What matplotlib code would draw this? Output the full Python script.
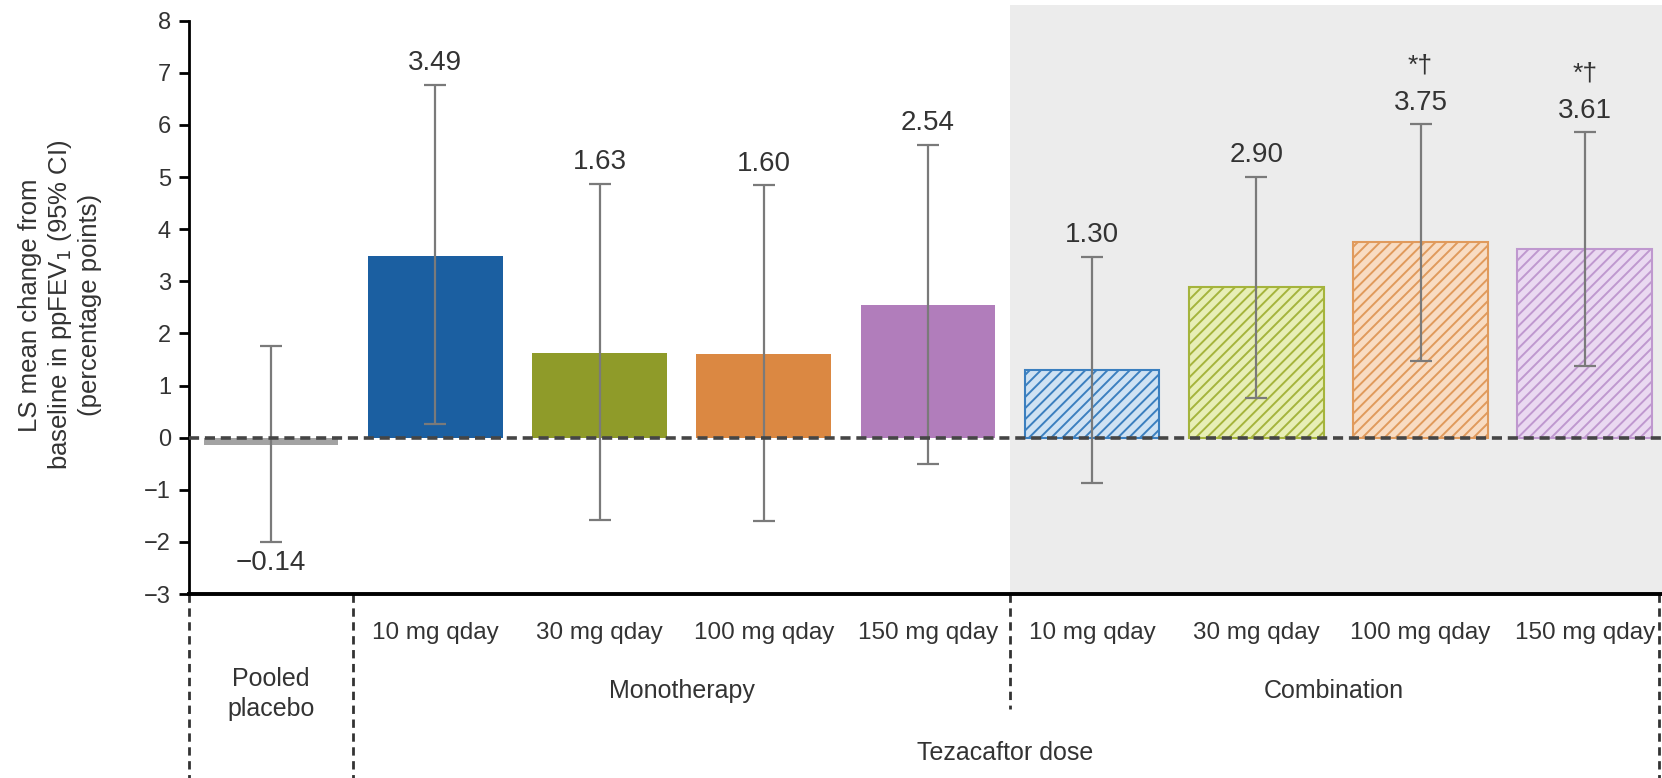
import matplotlib.pyplot as plt

plt.rcParams['font.family'] = ['Liberation Sans', 'DejaVu Sans']
plt.rcParams['hatch.linewidth'] = 1.4

# values
dose_labels = ['', '10 mg qday', '30 mg qday', '100 mg qday', '150 mg qday',
               '10 mg qday', '30 mg qday', '100 mg qday', '150 mg qday']
ls_mean = [-0.14, 3.49, 1.63, 1.60, 2.54, 1.30, 2.90, 3.75, 3.61]
ci_low = [-2.00, 0.26, -1.58, -1.60, -0.50, -0.87, 0.77, 1.47, 1.38]
ci_high = [1.76, 6.77, 4.87, 4.85, 5.62, 3.47, 5.01, 6.01, 5.86]
marks = ['', '', '', '', '', '', '', '*\u2020', '*\u2020']
y_ticks = [-3, -2, -1, 0, 1, 2, 3, 4, 5, 6, 7, 8]

face_colors = ['#a3a3a3', '#1b5fa1', '#8f9b29', '#db8842', '#b17dbb',
               '#cfe2f3', '#e7eeb6', '#f8dcc3', '#ead9f1']
edge_colors = ['#a3a3a3', '#1b5fa1', '#8f9b29', '#db8842', '#b17dbb',
               '#3b7fbf', '#a5b43c', '#e09a5c', '#bf98cf']
hatches = ['', '', '', '', '', '///', '///', '///', '///']

text_color = '#333333'

fig = plt.figure(figsize=(16.62, 7.78), dpi=100)
ax = fig.add_axes([0.1137, 0.2365, 0.8863, 0.757])

x = list(range(len(ls_mean)))

# grey background behind combination arm
ax.axvspan(4.5, 8.47, color='#ececec', zorder=0, lw=0)

for i in x:
    ax.bar(i, ls_mean[i], width=0.82, color=face_colors[i],
           edgecolor=edge_colors[i], hatch=hatches[i],
           linewidth=1.5 if hatches[i] else 0, zorder=2)

err_low = [m - lo for m, lo in zip(ls_mean, ci_low)]
err_high = [hi - m for m, hi in zip(ls_mean, ci_high)]
ax.errorbar(x, ls_mean, yerr=[err_low, err_high], fmt='none',
            ecolor='#7a7a7a', elinewidth=1.6, capsize=8, capthick=1.6, zorder=3)

# value labels
for i in x:
    label = f'{ls_mean[i]:.2f}'.replace('-', '\u2212')
    if ls_mean[i] < 0:
        ax.annotate(label, (i, ci_low[i]), xytext=(0, -6),
                    textcoords='offset points', ha='center', va='top',
                    fontsize=20, color=text_color)
    else:
        ax.annotate(label, (i, ci_high[i]), xytext=(0, 6),
                    textcoords='offset points', ha='center', va='bottom',
                    fontsize=20, color=text_color)
    if marks[i]:
        ax.annotate(marks[i], (i, ci_high[i]), xytext=(0, 34),
                    textcoords='offset points', ha='center', va='bottom',
                    fontsize=19, color=text_color)

# zero reference line
ax.axhline(0, color='#454545', lw=2.6, dashes=(2.8, 1.6), zorder=4)

ax.set_xlim(-0.5, 8.47)
ax.set_ylim(-3, 8.3)
ax.set_yticks(y_ticks)
ax.tick_params(axis='y', direction='out', length=7, width=2, labelsize=17,
               labelcolor=text_color, pad=6)
ax.set_xticks([])

for side in ['top', 'right']:
    ax.spines[side].set_visible(False)
ax.spines['left'].set_bounds(-3, 8)
ax.spines['left'].set_linewidth(2)
ax.spines['bottom'].set_linewidth(2.8)

# dose labels and group dividers below the axis
trans = ax.get_xaxis_transform()
for i in x:
    if dose_labels[i]:
        ax.text(i, -0.066, dose_labels[i], transform=trans, ha='center',
                va='center', fontsize=17.5, color=text_color)

for xd, bottom in [(-0.5, -0.33), (0.5, -0.33), (4.5, -0.195), (8.45, -0.33)]:
    ax.plot([xd, xd], [0, bottom], transform=trans, clip_on=False,
            color='#333333', lw=2, dashes=(3, 2))

ax.text(0, -0.17, 'Pooled\nplacebo', transform=trans, ha='center',
        va='center', fontsize=18, color=text_color, linespacing=1.3)
ax.text(2.5, -0.165, 'Monotherapy', transform=trans, ha='center',
        va='center', fontsize=18, color=text_color)
ax.text(6.47, -0.165, 'Combination', transform=trans, ha='center',
        va='center', fontsize=18, color=text_color)
ax.text(4.47, -0.27, 'Tezacaftor dose', transform=trans, ha='center',
        va='center', fontsize=18, color=text_color)

fig.text(0.036, 0.608,
         'LS mean change from\nbaseline in ppFEV$_1$ (95% CI)\n(percentage points)',
         rotation=90, ha='center', va='center', fontsize=18.5,
         color=text_color, linespacing=1.2)

fig.savefig('out.png', dpi=100)
